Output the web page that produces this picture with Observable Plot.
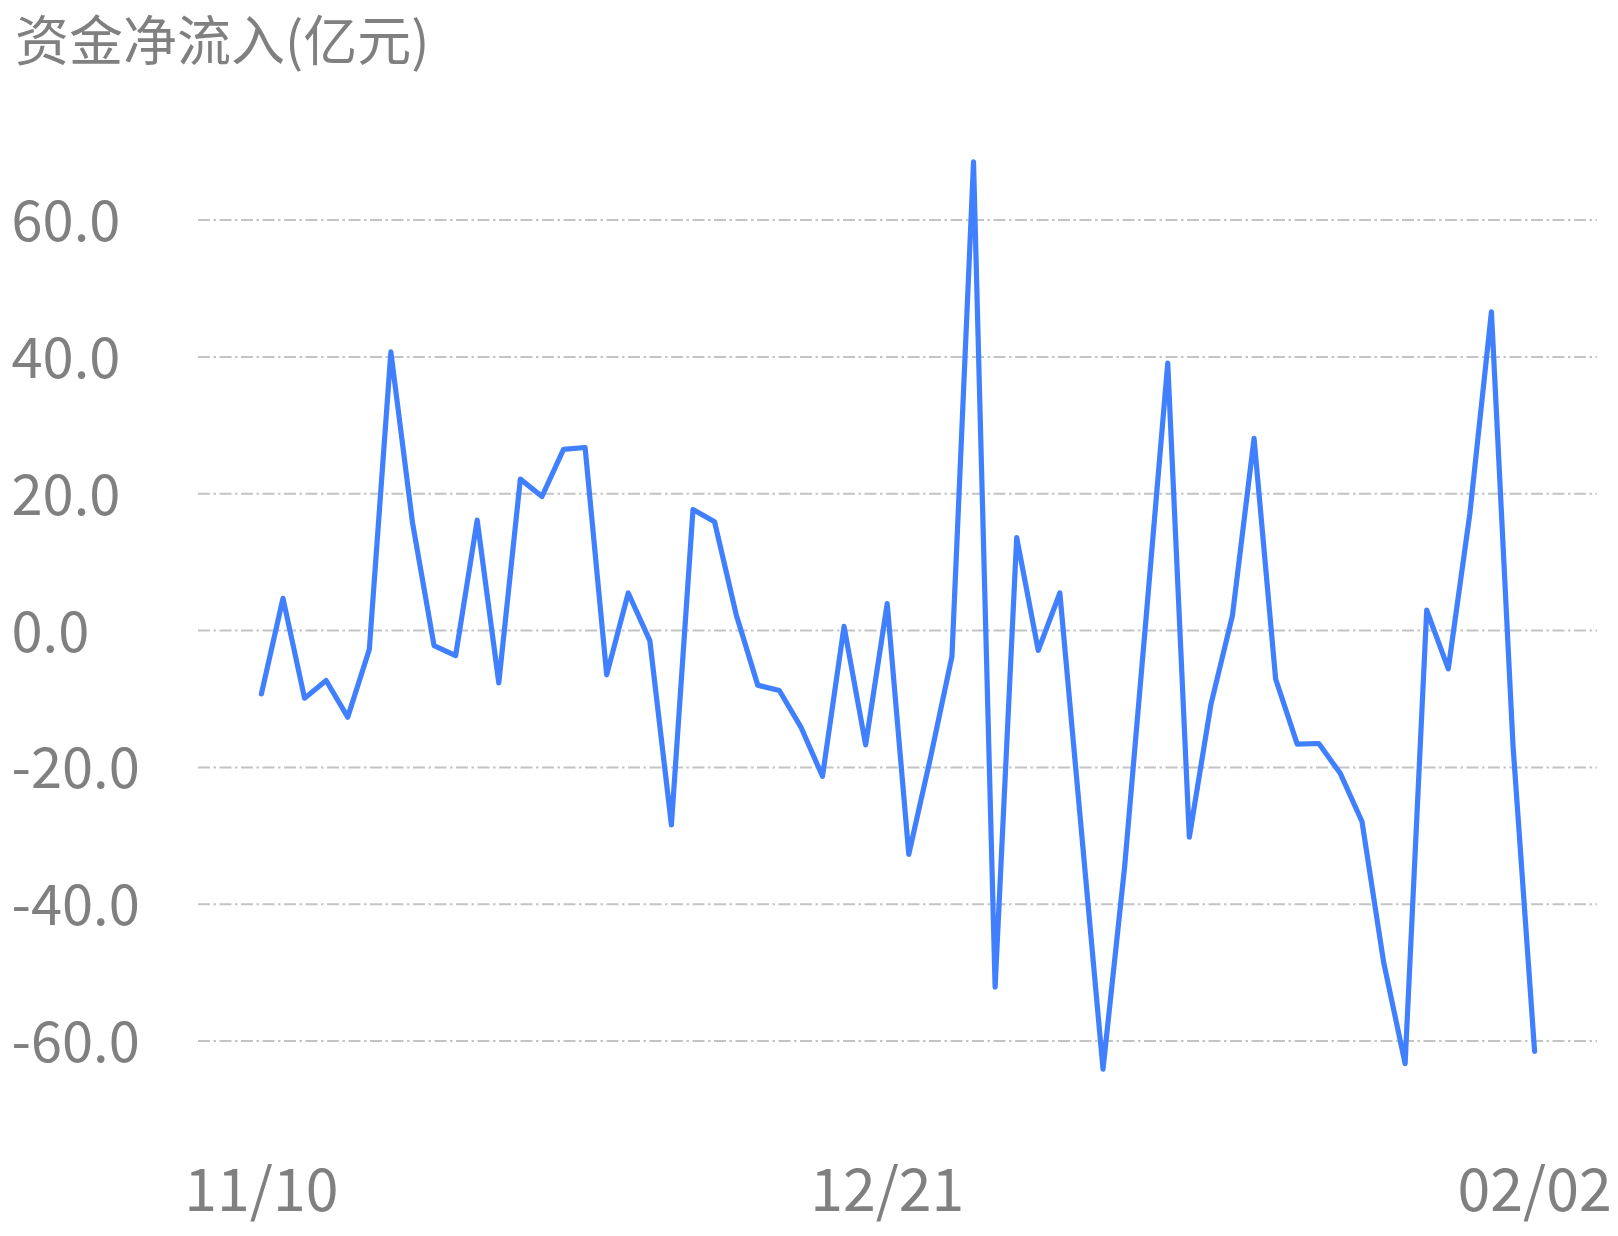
<!DOCTYPE html>
<html><head><meta charset="utf-8">
<script src="https://cdn.jsdelivr.net/npm/d3@7"></script>
<script src="https://cdn.jsdelivr.net/npm/@observablehq/plot@0.6"></script>
<style>
html,body{margin:0;padding:0;background:#fff;}
#title{height:80px;box-sizing:border-box;padding-left:15px;font-family:"Noto Sans CJK SC",sans-serif;font-size:54px;line-height:76px;color:#808080;white-space:nowrap;overflow:visible;}
#chart svg{display:block;}
</style></head><body>
<div id="title">资金净流入(亿元)</div>
<div id="chart"></div>
<script>
const dates = [
  "11/10","11/13","11/14","11/15","11/16","11/17","11/20","11/21","11/22","11/23","11/24",
  "11/27","11/28","11/29","11/30","12/01","12/04","12/05","12/06","12/07","12/08",
  "12/11","12/12","12/13","12/14","12/15","12/18","12/19","12/20","12/21",
  "12/22","12/25","12/26","12/27","12/28","12/29",
  "01/02","01/03","01/04","01/05","01/08","01/09","01/10","01/11","01/12",
  "01/15","01/16","01/17","01/18","01/19","01/22","01/23","01/24","01/25","01/26",
  "01/29","01/30","01/31","02/01","02/02"
];
const values = [
  -9.25, 4.72, -9.88, -7.30, -12.65, -2.77, 40.73, 15.8, -2.19, -3.65, 16.16,
  -7.64, 22.14, 19.6, 26.5, 26.76, -6.47, 5.5, -1.46, -28.4, 17.7,
  15.9, 2.36, -7.97, -8.76, -14.1, -21.3, 0.61, -16.7, 3.94,
  -32.7, -18.65, -3.77, 68.5, -52.1, 13.6,
  -2.9, 5.5, -29.3, -64.1, -34.6, 2.0, 39.1, -30.2, -10.8,
  2.24, 28.1, -7.08, -16.6, -16.5, -20.9, -27.9, -48.4, -63.3, 3.0,
  -5.6, 17.1, 46.6, -16.8, -61.5
];
const yTicks = [-60, -40, -20, 0, 20, 40, 60];
const xTickLabels = ["11/10", "12/21", "02/02"];

const data = dates.map((d, i) => ({date: d, value: values[i]}));
const font = '"Noto Sans CJK SC", sans-serif';

const chart = Plot.plot({
  width: 1618,
  height: 1156,
  marginLeft: 198,
  marginRight: 21,
  marginTop: 37,
  marginBottom: 127,
  x: {type: "point", domain: dates, padding: 2.915, axis: null},
  y: {domain: [-70, 75], axis: null},
  style: {fontFamily: font, background: "#fff", overflow: "visible"},
  marks: [
    Plot.gridY(yTicks, {stroke: "#c4c4c4", strokeOpacity: 1, strokeWidth: 2, strokeDasharray: "12,3.5,2.5,3.5"}),
    Plot.text(yTicks, {y: d => d, text: d => d.toFixed(1), frameAnchor: "left", lineAnchor: "middle", textAnchor: "start", dx: 11 - 198, dy: 3, fontSize: 56, fill: "#808080"}),
    Plot.text(xTickLabels, {x: d => d, text: d => d, frameAnchor: "bottom", lineAnchor: "middle", dy: 83, fontSize: 59, fill: "#808080"}),
    Plot.line(data, {x: "date", y: "value", stroke: "#4080ff", strokeWidth: 5.2, strokeLinejoin: "round", strokeLinecap: "round"})
  ]
});
document.getElementById("chart").appendChild(chart);
</script>
</body></html>
